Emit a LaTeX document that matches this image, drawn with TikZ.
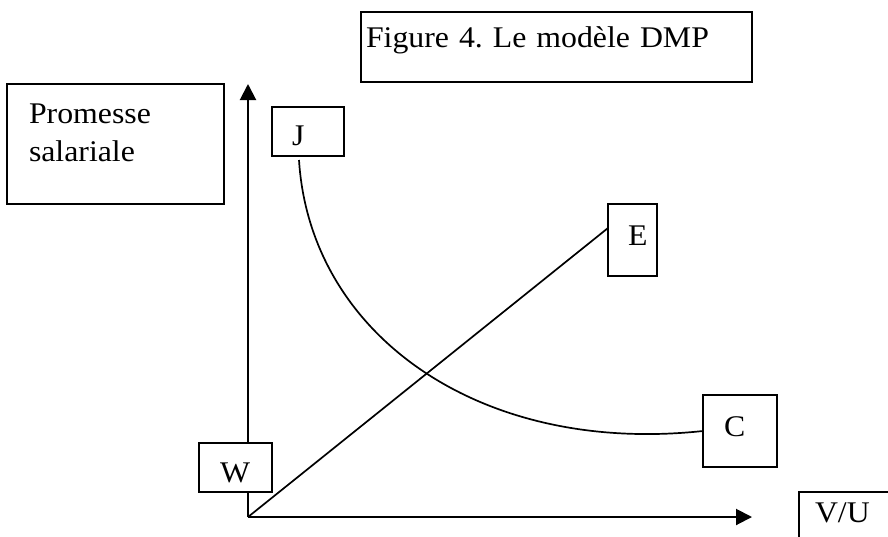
\documentclass[tikz,border=0pt]{standalone}
\usepackage{fontspec}
\setmainfont{Liberation Serif}[FakeStretch=1.06]
\usetikzlibrary{arrows.meta}
\frenchspacing

\begin{document}
\begin{tikzpicture}[
    x=0.5pt, y=-0.5pt, % une unite = un pixel, y vers le bas
    font=\fontsize{15pt}{19pt}\selectfont,
    box/.style={draw=black, fill=white, line width=1pt, anchor=north west, outer sep=0pt, inner ysep=0pt, align=left},
    axis/.style={draw, line width=1pt, -{Triangle[length=8pt, width=8pt]}},
    curve/.style={draw, line width=0.85pt}
]

% Cadre
\useasboundingbox (0,0) rectangle (888,536);
\clip (0,0) rectangle (888,536);

% Axes
\coordinate (O) at (248,517);
\coordinate (ytop) at (248,84);
\coordinate (xend) at (752,517);
\draw[axis] (O) -- (ytop);
\draw[axis] (O) -- (xend);

% Boites de texte
\node[box, text width=190.5pt, inner xsep=2.5pt, text height=17.5pt, text depth=17.5pt] (title) at (361,12) {Figure 4. Le modèle DMP};
\node[box, text width=86.5pt, inner xsep=11pt, text height=19.5pt, text depth=40.5pt] (promesse) at (7,84) {Promesse\\salariale};
\node[box, text width=16pt, inner xsep=10pt, text height=19pt, text depth=5.5pt] (J) at (272,107) {J};
\node[box, text width=4.5pt, inner xsep=10pt, text height=20.5pt, text depth=15.5pt] (E) at (608,204) {E};
\node[box, text width=16pt, inner xsep=10.5pt, text height=20.5pt, text depth=15.5pt] (C) at (703,395) {C};
\node[box, text width=15.5pt, inner xsep=10.5pt, text height=19.5pt, text depth=5pt] (W) at (199,443) {W};
\node[box, text width=44pt, inner xsep=8pt, text height=15pt, text depth=25pt] (VU) at (799,492) {V/U};

% Courbes
\draw[curve] (O) -- ([yshift=6pt]E.west);
\draw[curve] ([xshift=-4.5pt, yshift=-2pt]J.south) .. controls (310,335) and (480,455) .. (C.west);

\end{tikzpicture}
\end{document}
